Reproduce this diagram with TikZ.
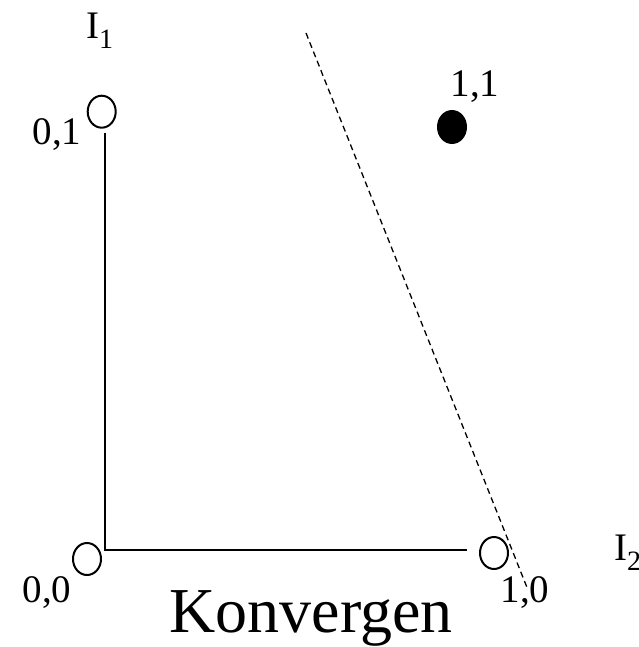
\documentclass[tikz,border=0pt]{standalone}
\usepackage{fontspec}
\setmainfont{Liberation Serif}
\usetikzlibrary{shapes.geometric}
\tikzset{
  pt/.style={ellipse, draw=black, line width=2pt, minimum width=28pt, minimum height=32pt, inner sep=0pt},
  opt/.style={pt, fill=white},
  fpt/.style={pt, fill=black},
  lbl/.style={anchor=base, inner sep=0pt, font=\fontsize{39}{40}\selectfont},
  axis/.style={line width=2pt},
  sep/.style={line width=1.3pt, dash pattern=on 6pt off 4pt}
}
\newcommand{\subnum}[1]{\raisebox{-10pt}{\fontsize{28}{28}\selectfont #1}}
\begin{document}
\begin{tikzpicture}[x=1pt,y=-1pt]
\useasboundingbox (0,0) rectangle (638,647);
% axes
\coordinate (atop) at (105,133);
\coordinate (corner) at (105,550);
\coordinate (aright) at (467,550);
\draw[axis] (atop) -- (corner) -- (aright);
% dashed separator
\coordinate (dtop) at (306,33);
\coordinate (dbot) at (528,590);
\draw[sep] (dtop) -- (dbot);
% points
\node[opt] (p01) at (101.7,111.7) {};
\node[opt] (p00) at (87,559) {};
\node[opt] (p10) at (494,553) {};
\node[fpt] (p11) at (452,127) {};
% labels
\node[lbl] (l01) at (57,145) {0,1};
\node[lbl] (l00) at (47,602) {0,0};
\node[lbl] (l10) at (525,602) {1,0};
\node[lbl] (l11) at (475,97) {1,1};
\node[lbl, anchor=base west] (i1) at (86,39) {I\subnum{1}};
\node[lbl, anchor=base west] (i2) at (614,560) {I\subnum{2}};
\node[anchor=base, inner sep=0pt, font=\fontsize{64}{70}\selectfont] (title) at (311,632) {Konvergen};
\end{tikzpicture}
\end{document}
